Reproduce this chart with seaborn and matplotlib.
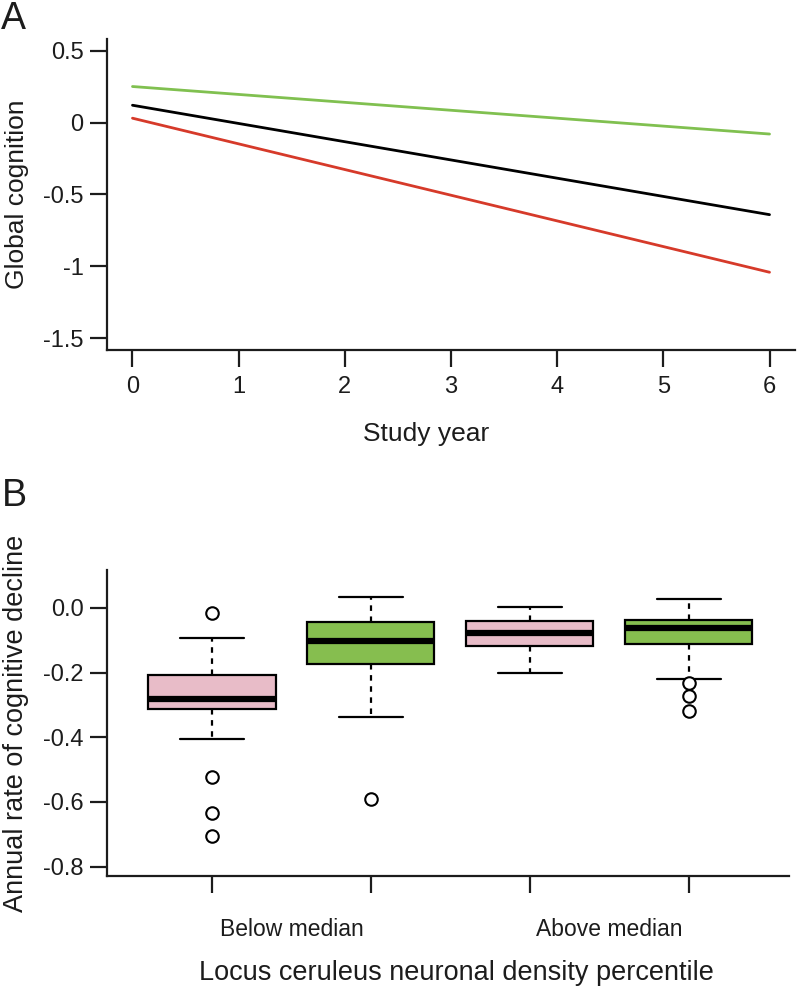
import pandas as pd
import matplotlib
matplotlib.use("Agg")
import matplotlib.pyplot as plt
import seaborn as sns

# ---- panel A: fitted trajectories (start / end of follow-up)
years = [0, 6]
overall = [0.12, -0.64]
low_density = [0.03, -1.04]
high_density = [0.25, -0.08]

below_pink = [-0.705, -0.634, -0.522, -0.406, -0.313, -0.305, -0.296, -0.290, -0.282,
              -0.265, -0.245, -0.225, -0.209, -0.180, -0.140, -0.092, -0.015]
below_green = [-0.590, -0.338, -0.250, -0.173, -0.150, -0.120, -0.101, -0.085, -0.060,
               -0.044, -0.020, 0.010, 0.035]
above_pink = [-0.202, -0.150, -0.117, -0.095, -0.078, -0.060, -0.042, -0.020, 0.004]
above_green = [-0.320, -0.274, -0.233, -0.219, -0.111, -0.095, -0.080, -0.070, -0.063,
               -0.055, -0.048, -0.042, -0.037, -0.020, 0.000, 0.015, 0.028]
group_names = ["below_1", "below_2", "above_1", "above_2"]
pair_labels = ["Below median", "Above median"]

pink = "#e8bcc8"
green = "#86be4f"
ink = "#1c1c1c"

sns.set_style("ticks")
plt.rcParams["font.family"] = ["Liberation Sans", "DejaVu Sans"]
plt.rcParams["text.color"] = ink
plt.rcParams["axes.labelcolor"] = ink
plt.rcParams["xtick.color"] = ink
plt.rcParams["ytick.color"] = ink

fig = plt.figure(figsize=(7.97, 9.88), dpi=100)
axA = fig.add_axes([107 / 797, 1 - 350 / 988, 688 / 797, 311 / 988])
axB = fig.add_axes([107 / 797, 1 - 876 / 988, 682 / 797, 306 / 988])

# panel A
dfA = pd.DataFrame({
    "year": years * 3,
    "cognition": overall + low_density + high_density,
    "group": ["overall"] * 2 + ["low"] * 2 + ["high"] * 2,
})
sns.lineplot(data=dfA, x="year", y="cognition", hue="group",
             palette={"overall": "black", "low": "#d63a2a", "high": "#80c050"},
             linewidth=2, legend=False, ax=axA)
axA.set_xlim(-0.24, 6.24)
axA.set_ylim(-1.58, 0.58)
axA.set_xticks(range(7))
axA.set_xticklabels([str(i) for i in range(7)])
axA.set_yticks([0.5, 0, -0.5, -1, -1.5])
axA.set_yticklabels(["0.5", "0", "-0.5", "-1", "-1.5"])
axA.set_xlabel("Study year", fontsize=19)
axA.set_ylabel("Global cognition", fontsize=19)
axA.xaxis.set_label_coords(0.464, -0.232)
axA.yaxis.set_label_coords(-0.113, 0.5)

# panel B
dfB = pd.DataFrame({
    "group": ["below_1"] * len(below_pink) + ["below_2"] * len(below_green)
             + ["above_1"] * len(above_pink) + ["above_2"] * len(above_green),
    "rate": below_pink + below_green + above_pink + above_green,
})
sns.boxplot(data=dfB, x="group", y="rate", hue="group", order=group_names,
            hue_order=group_names, palette=[pink, green, pink, green],
            saturation=1, width=0.8, linecolor="black", linewidth=1.6,
            whiskerprops=dict(linestyle=(0, (2.5, 2.5))),
            medianprops=dict(linewidth=4.5, color="black"),
            flierprops=dict(marker="o", markersize=9, markerfacecolor="white",
                            markeredgecolor="black", markeredgewidth=1.5),
            legend=False, ax=axB)
axB.set_xlim(-0.66, 3.63)
axB.set_ylim(-0.829, 0.117)
axB.set_xticks([0, 1, 2, 3])
axB.set_xticklabels(["", "", "", ""])
axB.set_yticks([0.0, -0.2, -0.4, -0.6, -0.8])
axB.set_yticklabels(["0.0", "-0.2", "-0.4", "-0.6", "-0.8"])
for xpos, lab in zip([0.5, 2.5], pair_labels):
    axB.text(xpos, -0.176, lab, transform=axB.get_xaxis_transform(),
             ha="center", va="center", fontsize=16.5)
axB.set_xlabel("Locus ceruleus neuronal density percentile", fontsize=19.5)
axB.set_ylabel("Annual rate of cognitive decline", fontsize=19.5)
axB.xaxis.set_label_coords(0.513, -0.275)
axB.yaxis.set_label_coords(-0.114, 0.5)

for ax in (axA, axB):
    sns.despine(ax=ax)
    for s in ("left", "bottom"):
        ax.spines[s].set_linewidth(1.6)
        ax.spines[s].set_color(ink)
    ax.tick_params(length=12, width=1.6, labelsize=17, pad=5)
axA.tick_params(axis="x", pad=7)

fig.text(13 / 797, 1 - 1 / 988, "A", fontsize=27, ha="center", va="top")
fig.text(14 / 797, 1 - 478 / 988, "B", fontsize=27, ha="center", va="top")

fig.savefig("out.png", dpi=100)
